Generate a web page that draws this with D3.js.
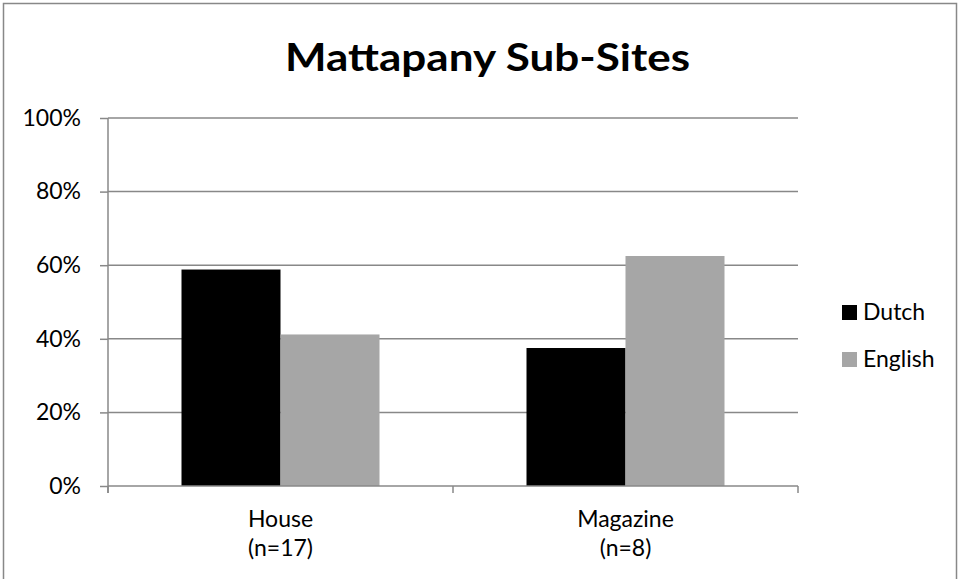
<!DOCTYPE html>
<html>
<head>
<meta charset="utf-8">
<script src="https://cdn.jsdelivr.net/npm/d3@7"></script>
<style>
  body { margin: 0; background: #fff; }
  text { font-family: Lato, "Open Sans", sans-serif; fill: #000; }
</style>
</head>
<body>
<div id="chart"></div>
<script>
// data
const categories = ["House", "Magazine"];
const categoryNotes = ["(n=17)", "(n=8)"];
const seriesNames = ["Dutch", "English"];
const dutchValues = [10 / 17, 3 / 8];
const englishValues = [7 / 17, 5 / 8];
const yTicks = [0, 0.2, 0.4, 0.6, 0.8, 1.0];
const colors = ["#000000", "#a6a6a6"];

const width = 960, height = 579;
const margin = {top: 118, right: 162, bottom: 93, left: 108};
const plotW = width - margin.left - margin.right;
const plotH = height - margin.top - margin.bottom;
const labelSize = "23px";

const svg = d3.select("#chart").append("svg")
    .attr("width", width)
    .attr("height", height);

// outer border
svg.append("rect")
    .attr("x", 3.5).attr("y", 3.5)
    .attr("width", 953).attr("height", 590)
    .attr("fill", "none")
    .attr("stroke", "#888")
    .attr("stroke-width", 1.5);

// title
svg.append("text")
    .attr("x", 487.5)
    .attr("y", 71)
    .attr("text-anchor", "middle")
    .attr("textLength", 405)
    .attr("lengthAdjust", "spacingAndGlyphs")
    .style("font-size", "38px")
    .style("font-weight", "bold")
    .text("Mattapany Sub-Sites");

const g = svg.append("g")
    .attr("transform", `translate(${margin.left},${margin.top})`);

const x0 = d3.scaleBand().domain(categories).range([0, plotW]).paddingInner(0).paddingOuter(0);
const x1 = d3.scaleBand().domain(seriesNames).range([73.5, x0.bandwidth() - 73.5]);
const y = d3.scaleLinear().domain([0, 1]).range([plotH, 0]);

// gridlines
g.append("g")
    .selectAll("line")
    .data(yTicks.filter(d => d > 0))
    .join("line")
    .attr("x1", 0).attr("x2", plotW)
    .attr("y1", d => y(d)).attr("y2", d => y(d))
    .attr("stroke", "#888")
    .attr("stroke-width", 1.5);

// y axis
const yAxis = g.append("g")
    .call(d3.axisLeft(y).tickValues(yTicks).tickFormat(d3.format(".0%")).tickSize(8).tickPadding(19));
yAxis.select(".domain").remove();
yAxis.selectAll(".tick line").attr("stroke", "#888").attr("stroke-width", 1.5);
yAxis.selectAll(".tick text").style("font-size", labelSize).style("font-family", "Lato, sans-serif");
g.append("line")
    .attr("x1", 0).attr("x2", 0)
    .attr("y1", 0).attr("y2", plotH + 7)
    .attr("stroke", "#888").attr("stroke-width", 1.5);

// bars
const rows = categories.map((c, i) => ({cat: c, values: [dutchValues[i], englishValues[i]]}));
g.append("g")
    .selectAll("g")
    .data(rows)
    .join("g")
    .attr("transform", d => `translate(${x0(d.cat)},0)`)
    .selectAll("rect")
    .data(d => d.values.map((v, i) => ({name: seriesNames[i], v: v, i: i})))
    .join("rect")
    .attr("x", d => x1(d.name))
    .attr("width", x1.bandwidth())
    .attr("y", d => y(d.v))
    .attr("height", d => y(0) - y(d.v))
    .attr("fill", d => colors[d.i]);

// x axis
const xAxis = g.append("g")
    .attr("transform", `translate(0,${plotH})`);
xAxis.append("line")
    .attr("x1", 0).attr("x2", plotW)
    .attr("stroke", "#888").attr("stroke-width", 1.5);
xAxis.selectAll(".xtick")
    .data(d3.range(categories.length + 1))
    .join("line")
    .attr("class", "xtick")
    .attr("x1", i => i * x0.bandwidth()).attr("x2", i => i * x0.bandwidth())
    .attr("y1", 0).attr("y2", 7)
    .attr("stroke", "#888").attr("stroke-width", 1.5);
const labels = xAxis.selectAll(".xlabel")
    .data(categories)
    .join("text")
    .attr("class", "xlabel")
    .attr("text-anchor", "middle")
    .attr("x", d => x0(d) + x0.bandwidth() / 2)
    .style("font-size", labelSize);
labels.append("tspan").attr("x", d => x0(d) + x0.bandwidth() / 2).attr("y", 41).text(d => d);
labels.append("tspan").attr("x", d => x0(d) + x0.bandwidth() / 2).attr("y", 70)
    .text((d, i) => categoryNotes[i]);

// legend
const legend = svg.append("g").attr("transform", "translate(842,305)");
seriesNames.forEach((name, i) => {
    legend.append("rect")
        .attr("x", 0).attr("y", i * 47)
        .attr("width", 15).attr("height", 15)
        .attr("fill", colors[i]);
    legend.append("text")
        .attr("x", 21).attr("y", i * 47 + 15)
        .style("font-size", labelSize)
        .text(name);
});
</script>
</body>
</html>
